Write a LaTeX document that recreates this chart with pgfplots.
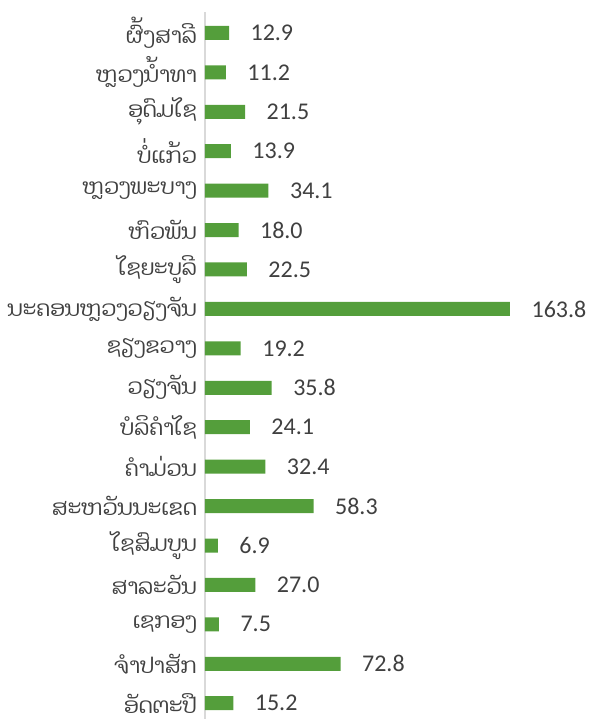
\documentclass[border=0pt]{standalone}
\usepackage{pgfplots}
\pgfplotsset{compat=1.18}
\usepackage{fontspec}
\setmainfont{Carlito}
\newfontfamily\laofont[Script=Lao]{Dhyana}
\definecolor{barg}{HTML}{549E3B}
\definecolor{txt}{HTML}{404040}
\definecolor{axg}{HTML}{D9D9D9}
\begin{document}
\begin{tikzpicture}
\path[use as bounding box] (-153.75pt,0pt) rectangle (288pt,539.25pt);
\begin{axis}[
  at={(0pt,0pt)}, anchor=south west,
  scale only axis,
  width=228.75pt, height=530.25pt,
  xbar, bar width=10.5pt,
  xmin=0, xmax=163.8,
  ymin=-0.53, ymax=17.4,
  y dir=reverse,
  axis x line=none,
  axis y line*=left,
  y axis line style={axg, line width=1.5pt},
  ytick={0,...,17},
  yticklabels={ຜົ້ງສາລີ, ຫຼວງນ້ຳທາ, ອຸດົມໄຊ, ບໍ່ແກ້ວ, ຫຼວງພະບາງ, ຫົວພັນ, ໄຊຍະບູລີ, ນະຄອນຫຼວງວຽງຈັນ, ຊຽງຂວາງ, ວຽງຈັນ, ບໍລິຄຳໄຊ, ຄຳມ່ວນ, ສະຫວັນນະເຂດ, ໄຊສົມບູນ, ສາລະວັນ, ເຊກອງ, ຈຳປາສັກ, ອັດຕະປື},
  major tick length=0pt,
  yticklabel style={font=\laofont\fontsize{16.3}{19}\selectfont, text=txt, inner sep=0pt, xshift=-6pt},
  nodes near coords,
  every node near coord/.append style={font=\fontsize{18}{21}\selectfont, text=txt, anchor=west, inner sep=0pt, xshift=16pt},
  /pgf/number format/fixed,
  /pgf/number format/fixed zerofill,
  /pgf/number format/precision=1,
  /pgf/number format/assume math mode=true,
  clip=false,
]
\addplot[fill=barg, draw=none] coordinates {
(12.9,0) (11.2,1) (21.5,2) (13.9,3) (34.1,4) (18.0,5) (22.5,6) (163.8,7) (19.2,8)
(35.8,9) (24.1,10) (32.4,11) (58.3,12) (6.9,13) (27.0,14) (7.5,15) (72.8,16) (15.2,17)
};
\end{axis}
\end{tikzpicture}
\end{document}
